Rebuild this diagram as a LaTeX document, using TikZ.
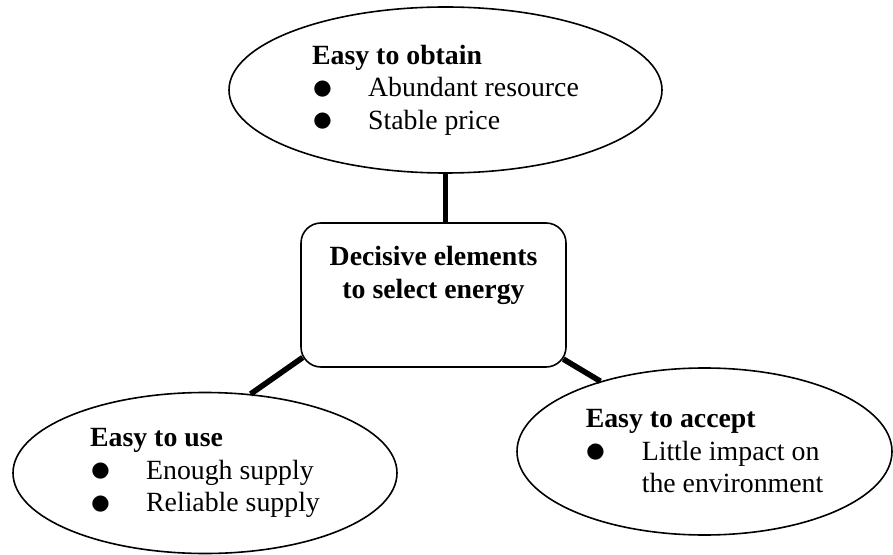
\documentclass[tikz,border=0pt]{standalone}
\usepackage{fontspec}
\setmainfont{Liberation Serif}
\usetikzlibrary{shapes.geometric, positioning, calc}

\tikzset{
  topic/.style={draw, ellipse, line width=0.8pt, align=left, inner sep=0pt},
  hub/.style={draw, rectangle, rounded corners=10pt, line width=0.8pt,
    minimum width=132.5pt, minimum height=72pt},
  link/.style={line width=2.8pt},
}
\newcommand{\itemdot}{\makebox[28pt][l]{\smash{\raisebox{-1.2pt}{\scalebox{1.45}{$\bullet$}}}}}

\begin{document}
\begin{tikzpicture}[x=0.5pt, y=-0.5pt, font=\fontsize{13.9}{16.25}\selectfont]
    \fill[white] (0,0) rectangle (893,555);
    \useasboundingbox (0,0) rectangle (893,555);

    % Central box
    \node[hub] (core) at (433.5,295) {};
    \node[align=center, inner sep=0pt, below=12pt of core.north] (coretitle)
      {\textbf{Decisive elements}\\ \textbf{to select energy}};

    % Three criteria
    \node[topic, minimum width=216.5pt, minimum height=83pt] (obtain) at (445.5,90)
      {\textbf{Easy to obtain}\\ \itemdot Abundant resource\\ \itemdot Stable price};
    \node[topic, minimum width=192pt, minimum height=80.5pt] (use) at (205,473)
      {\textbf{Easy to use}\\ \itemdot Enough supply\\ \itemdot Reliable supply};
    \node[topic, minimum width=187.5pt, minimum height=83.5pt] (accept) at (704.5,451.5)
      {\textbf{Easy to accept}\\ \itemdot Little impact on\\ \hspace*{28pt}the environment};

    % Links
    \draw[link] (obtain.south) -- (obtain.south |- core.north);
    \draw[link] ($(core.south west)+(2.5,-10.3)$) -- (use.60);
    \draw[link] ($(core.south east)+(-3.5,-8.7)$) -- (accept.146);
\end{tikzpicture}
\end{document}
